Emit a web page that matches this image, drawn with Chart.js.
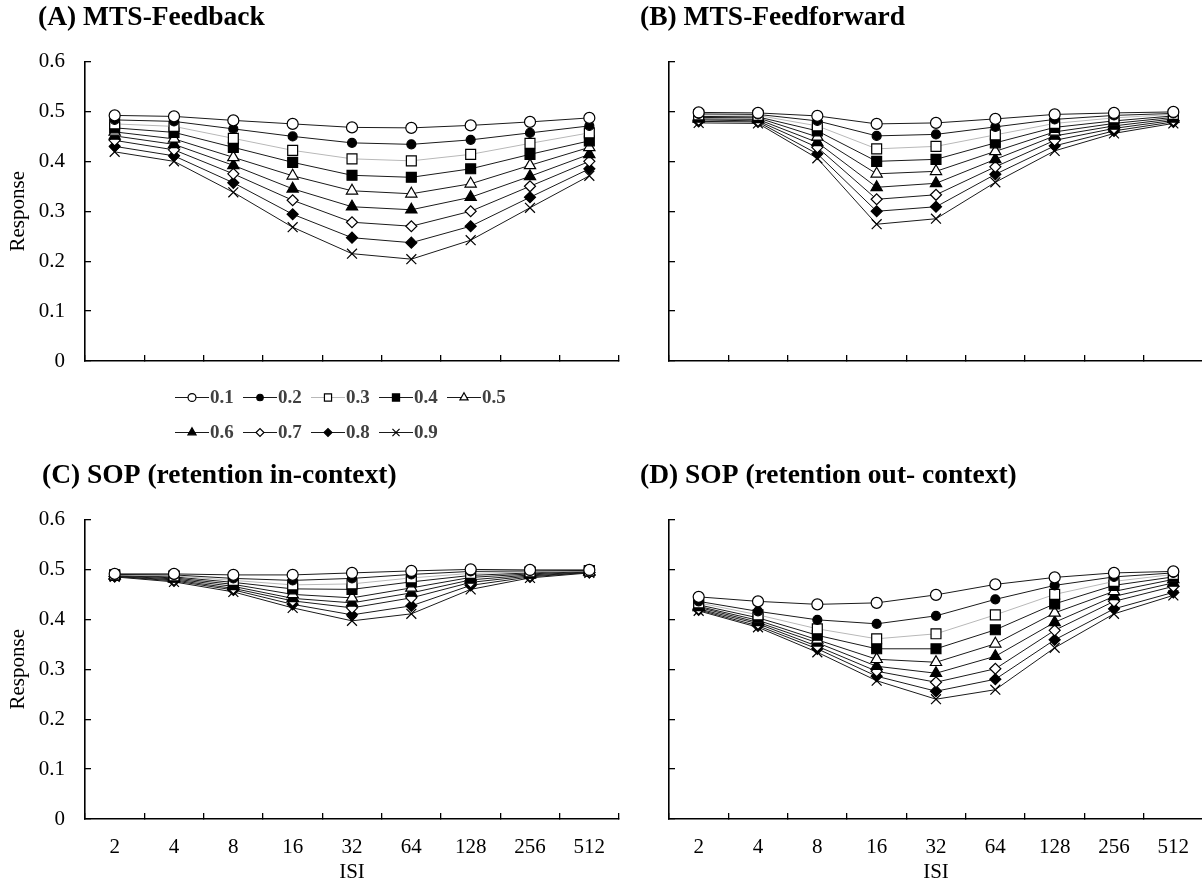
<!DOCTYPE html>
<html>
<head>
<meta charset="utf-8">
<script src="https://cdn.jsdelivr.net/npm/chart.js@4.4.1/dist/chart.umd.min.js"></script>
<style>
  html, body { margin: 0; padding: 0; background: #fff; }
  #page { position: relative; width: 1202px; height: 886px; overflow: hidden; background: #fff; }
  #page canvas.panel { position: absolute; }
  #legend {
    position: absolute; left: 175px; top: 379px; width: 360px;
    font: bold 19px "Liberation Serif", "Times New Roman", serif; color: #404040;
  }
  #legend .item { display: inline-flex; align-items: center; width: 68px; height: 35px; vertical-align: top; }
  #legend .item canvas { margin-right: 1px; }
</style>
</head>
<body>
<div id="page">
  <canvas id="panelA" class="panel" width="630" height="380" style="left:0;top:0"></canvas>
  <canvas id="panelB" class="panel" width="573" height="380" style="left:630px;top:0"></canvas>
  <canvas id="panelC" class="panel" width="630" height="446" style="left:0;top:440px"></canvas>
  <canvas id="panelD" class="panel" width="573" height="446" style="left:630px;top:440px"></canvas>
  <div id="legend"></div>
</div>
<script>
// x categories (inter-stimulus interval) and y ticks
const isiLabels = ['2', '4', '8', '16', '32', '64', '128', '256', '512'];
const yTickValues = [0, 0.1, 0.2, 0.3, 0.4, 0.5, 0.6];
const yTickLabels = ['0', '0.1', '0.2', '0.3', '0.4', '0.5', '0.6'];
const seriesLabels = ['0.1', '0.2', '0.3', '0.4', '0.5', '0.6', '0.7', '0.8', '0.9'];

// one row per parameter value 0.1 .. 0.9, one column per ISI
const mtsFeedback = [
  [0.492, 0.490, 0.482, 0.475, 0.468, 0.467, 0.472, 0.479, 0.487],
  [0.483, 0.480, 0.465, 0.450, 0.437, 0.434, 0.443, 0.457, 0.471],
  [0.475, 0.470, 0.446, 0.422, 0.405, 0.401, 0.414, 0.436, 0.457],
  [0.467, 0.458, 0.428, 0.398, 0.372, 0.368, 0.385, 0.414, 0.441],
  [0.459, 0.445, 0.408, 0.371, 0.341, 0.335, 0.355, 0.392, 0.428],
  [0.451, 0.434, 0.392, 0.345, 0.309, 0.303, 0.328, 0.370, 0.414],
  [0.442, 0.423, 0.375, 0.322, 0.278, 0.270, 0.300, 0.350, 0.400],
  [0.430, 0.411, 0.357, 0.294, 0.247, 0.237, 0.270, 0.328, 0.385],
  [0.419, 0.400, 0.338, 0.268, 0.215, 0.204, 0.242, 0.307, 0.371]
];

const mtsFeedforward = [
  [0.498, 0.497, 0.491, 0.475, 0.477, 0.485, 0.494, 0.497, 0.499],
  [0.495, 0.494, 0.481, 0.451, 0.454, 0.469, 0.484, 0.492, 0.496],
  [0.493, 0.492, 0.471, 0.425, 0.430, 0.453, 0.476, 0.487, 0.494],
  [0.490, 0.489, 0.461, 0.400, 0.404, 0.437, 0.468, 0.481, 0.491],
  [0.488, 0.487, 0.449, 0.375, 0.380, 0.420, 0.459, 0.476, 0.488],
  [0.485, 0.484, 0.438, 0.348, 0.356, 0.404, 0.451, 0.471, 0.485],
  [0.483, 0.481, 0.428, 0.324, 0.333, 0.389, 0.442, 0.466, 0.482],
  [0.480, 0.479, 0.415, 0.300, 0.309, 0.374, 0.431, 0.461, 0.479],
  [0.477, 0.476, 0.406, 0.274, 0.285, 0.358, 0.421, 0.456, 0.476]
];

const sopInContext = [
  [0.491, 0.491, 0.489, 0.489, 0.493, 0.497, 0.500, 0.499, 0.499],
  [0.490, 0.489, 0.482, 0.478, 0.482, 0.490, 0.496, 0.497, 0.498],
  [0.489, 0.487, 0.478, 0.469, 0.471, 0.483, 0.492, 0.495, 0.497],
  [0.488, 0.485, 0.474, 0.461, 0.460, 0.475, 0.488, 0.493, 0.497],
  [0.488, 0.483, 0.470, 0.450, 0.443, 0.463, 0.484, 0.491, 0.496],
  [0.487, 0.481, 0.466, 0.442, 0.433, 0.453, 0.479, 0.489, 0.495],
  [0.486, 0.479, 0.462, 0.437, 0.423, 0.443, 0.474, 0.487, 0.494],
  [0.486, 0.477, 0.459, 0.430, 0.409, 0.427, 0.468, 0.485, 0.494],
  [0.485, 0.475, 0.455, 0.423, 0.397, 0.411, 0.460, 0.483, 0.493]
];

const sopOutContext = [
  [0.445, 0.436, 0.430, 0.433, 0.449, 0.470, 0.484, 0.493, 0.496],
  [0.436, 0.416, 0.399, 0.391, 0.407, 0.440, 0.468, 0.485, 0.493],
  [0.433, 0.409, 0.381, 0.361, 0.371, 0.409, 0.450, 0.476, 0.490],
  [0.429, 0.403, 0.368, 0.341, 0.341, 0.379, 0.431, 0.468, 0.485],
  [0.426, 0.398, 0.359, 0.320, 0.314, 0.351, 0.413, 0.456, 0.480],
  [0.424, 0.394, 0.353, 0.306, 0.292, 0.326, 0.394, 0.446, 0.473],
  [0.421, 0.391, 0.346, 0.296, 0.274, 0.301, 0.378, 0.436, 0.466],
  [0.419, 0.387, 0.341, 0.286, 0.256, 0.280, 0.359, 0.421, 0.454],
  [0.417, 0.384, 0.334, 0.277, 0.240, 0.259, 0.343, 0.411, 0.448]
];

const SERIF = '"Liberation Serif", "Times New Roman", serif';
Chart.defaults.font.family = SERIF;
Chart.defaults.color = '#000';

// marker look for each series, same order as seriesLabels
const markers = [
  { style: 'circle',   radius: 5.5, fill: '#fff', line: '#1a1a1a' },
  { style: 'circle',   radius: 4.5, fill: '#000', line: '#1a1a1a' },
  { style: 'rect',     radius: 7,   fill: '#fff', line: '#b8b8b8' },
  { style: 'rect',     radius: 7,   fill: '#000', line: '#1a1a1a' },
  { style: 'triangle', radius: 6.5, fill: '#fff', line: '#1a1a1a' },
  { style: 'triangle', radius: 6.5, fill: '#000', line: '#1a1a1a' },
  { style: 'rectRot',  radius: 5.5, fill: '#fff', line: '#1a1a1a' },
  { style: 'rectRot',  radius: 5.5, fill: '#000', line: '#1a1a1a' },
  { style: 'crossRot', radius: 7,   fill: '#000', line: '#1a1a1a' }
];

// the y scale's label strip may reach into the left page margin
const yLabelStrip = {
  id: 'yLabelStrip',
  afterLayout(chart) { chart.scales.y.left = 0; }
};

function makeDataset(values, i) {
  const m = markers[i];
  return {
    label: seriesLabels[i],
    data: values,
    borderColor: m.line,
    borderWidth: 1,
    tension: 0,
    pointStyle: m.style,
    pointRadius: m.radius,
    pointBackgroundColor: m.fill,
    pointBorderColor: '#000',
    pointBorderWidth: 1.2,
    clip: false
  };
}

function makePanel(id, p) {
  const tickFont = { family: SERIF, size: 21 };
  return new Chart(document.getElementById(id), {
    type: 'line',
    data: { labels: isiLabels, datasets: p.series.map(makeDataset) },
    plugins: [yLabelStrip],
    options: {
      responsive: false,
      animation: false,
      devicePixelRatio: 1,
      layout: { autoPadding: false, padding: { left: p.padLeft, right: p.padRight, top: 0, bottom: 0 } },
      plugins: {
        legend: { display: false },
        tooltip: { enabled: false },
        title: {
          display: true,
          text: p.title,
          align: 'start',
          color: '#000',
          font: { family: SERIF, size: 27.5, weight: 'bold', lineHeight: 1 },
          padding: { top: p.titleTop, bottom: p.titleBottom }
        }
      },
      scales: {
        x: {
          type: 'category',
          offset: true,
          afterFit: s => { s.height = p.xHeight; s.paddingLeft = 0; s.paddingRight = 0; },
          grid: { offset: true, drawOnChartArea: false, drawTicks: true, tickLength: -6, color: '#000', lineWidth: 1.3 },
          border: { display: true, color: '#000', width: 1.6 },
          ticks: { display: p.showX, padding: 22, font: tickFont, color: '#000', maxRotation: 0, autoSkip: false },
          title: { display: p.showX, text: 'ISI', font: tickFont, color: '#000', padding: { top: 0, bottom: 1 } }
        },
        y: {
          min: 0,
          max: 0.6,
          afterFit: s => { s.width = p.yWidth; s.paddingTop = 0; s.paddingBottom = 0; },
          afterBuildTicks: s => { s.ticks = yTickValues.map(v => ({ value: v })); },
          grid: { drawOnChartArea: false, drawTicks: true, tickLength: -6, color: '#000', lineWidth: 1.3 },
          border: { display: true, color: '#000', width: 1.6 },
          ticks: { display: p.showY, padding: 26, font: tickFont, color: '#000', callback: (v, i) => yTickLabels[i] },
          title: { display: p.showY, text: 'Response', font: tickFont, color: '#000', padding: { top: 6, bottom: 0 } }
        }
      }
    }
  });
}

makePanel('panelA', {
  title: '(A) MTS-Feedback', series: mtsFeedback,
  padLeft: 38, padRight: 11, yWidth: 47, xHeight: 19,
  titleTop: 4.5, titleBottom: 29.5, showX: false, showY: true
});
makePanel('panelB', {
  title: '(B) MTS-Feedforward', series: mtsFeedforward,
  padLeft: 10, padRight: 0, yWidth: 29, xHeight: 19,
  titleTop: 4.5, titleBottom: 29.5, showX: false, showY: false
});
makePanel('panelC', {
  title: '(C) SOP (retention in-context)', series: sopInContext,
  padLeft: 42, padRight: 11, yWidth: 43, xHeight: 67,
  titleTop: 22.5, titleBottom: 29.5, showX: true, showY: true
});
makePanel('panelD', {
  title: '(D) SOP (retention out- context)', series: sopOutContext,
  padLeft: 10, padRight: 0, yWidth: 29, xHeight: 67,
  titleTop: 22.5, titleBottom: 29.5, showX: true, showY: false
});

// shared legend under panel A: line sample with its marker, then the value
const legendBox = document.getElementById('legend');
seriesLabels.forEach((label, i) => {
  const m = markers[i];
  const item = document.createElement('span');
  item.className = 'item';
  const icon = document.createElement('canvas');
  icon.width = 34;
  icon.height = 16;
  const ctx = icon.getContext('2d');
  ctx.strokeStyle = m.line;
  ctx.lineWidth = 1.2;
  ctx.beginPath();
  ctx.moveTo(0, 8.5);
  ctx.lineTo(34, 8.5);
  ctx.stroke();
  ctx.fillStyle = m.fill;
  ctx.strokeStyle = '#000';
  ctx.lineWidth = 1.2;
  Chart.helpers.drawPoint(ctx, { pointStyle: m.style, radius: m.radius * 0.72, borderWidth: 1.2, rotation: 0 }, 17, 8.5);
  item.appendChild(icon);
  const text = document.createElement('span');
  text.textContent = label;
  item.appendChild(text);
  legendBox.appendChild(item);
  if (i === 4) legendBox.appendChild(document.createElement('br'));
});
</script>
</body>
</html>
